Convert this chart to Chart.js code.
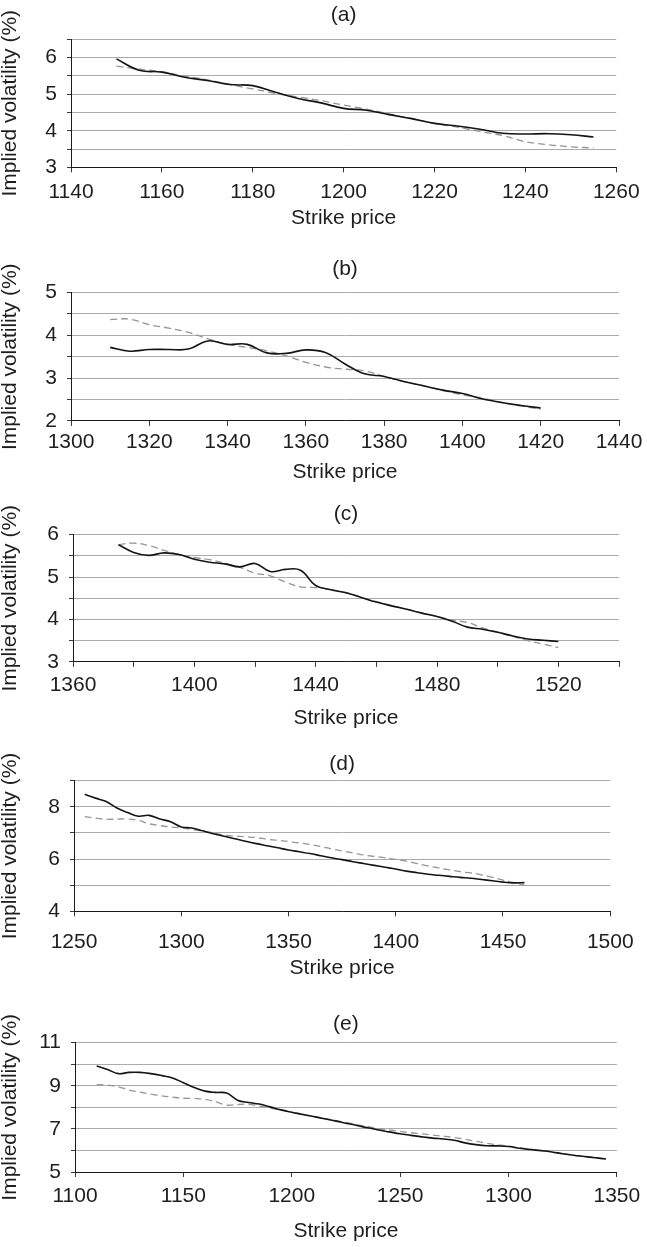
<!DOCTYPE html>
<html>
<head>
<meta charset="utf-8">
<script src="https://cdn.jsdelivr.net/npm/chart.js@4.4.1/dist/chart.umd.min.js"></script>
<style>
  html, body { margin: 0; padding: 0; background: #fff; }
  body { width: 647px; height: 1247px; position: relative; overflow: hidden; }
  canvas { position: absolute; left: 0; }
</style>
</head>
<body>
<canvas id="chartA"></canvas>
<canvas id="chartB"></canvas>
<canvas id="chartC"></canvas>
<canvas id="chartD"></canvas>
<canvas id="chartE"></canvas>
<script>
// (a)
const strikesA = [1150, 1155, 1160, 1165, 1170, 1175, 1180, 1185, 1190, 1195, 1200, 1205, 1210, 1215, 1220, 1225, 1230, 1235, 1240, 1245, 1250, 1255];
const solidA = [5.96, 5.65, 5.60, 5.46, 5.37, 5.26, 5.23, 5.05, 4.88, 4.76, 4.61, 4.56, 4.44, 4.33, 4.20, 4.13, 4.04, 3.93, 3.91, 3.92, 3.89, 3.83];
const dashedA = [5.76, 5.68, 5.61, 5.49, 5.39, 5.26, 5.14, 5.02, 4.92, 4.82, 4.70, 4.59, 4.46, 4.33, 4.20, 4.10, 3.98, 3.87, 3.70, 3.62, 3.56, 3.53];
const xLabelsA = [1140, 1160, 1180, 1200, 1220, 1240, 1260];
const yLabelsA = [3, 4, 5, 6];

// (b)
const strikesB = [1310, 1315, 1320, 1325, 1330, 1335, 1340, 1345, 1350, 1355, 1360, 1365, 1370, 1375, 1380, 1385, 1390, 1395, 1400, 1405, 1410, 1415, 1420];
const solidB = [3.72, 3.63, 3.67, 3.67, 3.68, 3.87, 3.79, 3.79, 3.59, 3.58, 3.66, 3.60, 3.33, 3.10, 3.04, 2.92, 2.82, 2.72, 2.64, 2.52, 2.43, 2.36, 2.30];
const dashedB = [4.37, 4.38, 4.25, 4.17, 4.07, 3.92, 3.79, 3.72, 3.64, 3.52, 3.37, 3.26, 3.21, 3.17, 3.04, 2.92, 2.82, 2.71, 2.61, 2.53, 2.43, 2.35, 2.27];
const xLabelsB = [1300, 1320, 1340, 1360, 1380, 1400, 1420, 1440];
const yLabelsB = [2, 3, 4, 5];

// (c)
const strikesC = [1375, 1380, 1385, 1390, 1395, 1400, 1405, 1410, 1415, 1420, 1425, 1430, 1435, 1440, 1445, 1450, 1455, 1460, 1465, 1470, 1475, 1480, 1485, 1490, 1495, 1500, 1505, 1510, 1515, 1520];
const solidC = [5.76, 5.58, 5.51, 5.57, 5.53, 5.42, 5.35, 5.31, 5.24, 5.32, 5.13, 5.18, 5.16, 4.80, 4.70, 4.63, 4.52, 4.41, 4.32, 4.24, 4.15, 4.07, 3.96, 3.82, 3.77, 3.70, 3.61, 3.54, 3.51, 3.48];
const dashedC = [5.76, 5.80, 5.74, 5.63, 5.53, 5.46, 5.41, 5.33, 5.23, 5.09, 5.03, 4.88, 4.77, 4.75, 4.71, 4.63, 4.52, 4.42, 4.33, 4.24, 4.15, 4.07, 3.98, 3.93, 3.80, 3.70, 3.60, 3.50, 3.42, 3.34];
const xLabelsC = [1360, 1400, 1440, 1480, 1520];
const yLabelsC = [3, 4, 5, 6];

// (d)
const strikesD = [1255, 1260, 1265, 1270, 1275, 1280, 1285, 1290, 1295, 1300, 1305, 1310, 1315, 1320, 1325, 1330, 1335, 1340, 1345, 1350, 1355, 1360, 1365, 1370, 1375, 1380, 1385, 1390, 1395, 1400, 1405, 1410, 1415, 1420, 1425, 1430, 1435, 1440, 1445, 1450, 1455, 1460];
const solidD = [8.48, 8.33, 8.20, 7.95, 7.78, 7.64, 7.67, 7.53, 7.43, 7.23, 7.19, 7.08, 6.97, 6.87, 6.78, 6.68, 6.59, 6.51, 6.43, 6.35, 6.28, 6.21, 6.13, 6.05, 5.98, 5.90, 5.83, 5.76, 5.69, 5.62, 5.54, 5.48, 5.42, 5.38, 5.34, 5.30, 5.27, 5.22, 5.17, 5.12, 5.09, 5.10];
const dashedD = [7.62, 7.57, 7.52, 7.53, 7.53, 7.48, 7.35, 7.28, 7.23, 7.19, 7.13, 7.07, 7.00, 6.92, 6.88, 6.85, 6.82, 6.76, 6.72, 6.67, 6.62, 6.56, 6.48, 6.39, 6.31, 6.24, 6.16, 6.10, 6.05, 5.99, 5.92, 5.83, 5.74, 5.66, 5.59, 5.52, 5.47, 5.40, 5.30, 5.20, 5.10, 5.00];
const xLabelsD = [1250, 1300, 1350, 1400, 1450, 1500];
const yLabelsD = [4, 6, 8];

// (e)
const strikesE = [1110, 1115, 1120, 1125, 1130, 1135, 1140, 1145, 1150, 1155, 1160, 1165, 1170, 1175, 1180, 1185, 1190, 1195, 1200, 1205, 1210, 1215, 1220, 1225, 1230, 1235, 1240, 1245, 1250, 1255, 1260, 1265, 1270, 1275, 1280, 1285, 1290, 1295, 1300, 1305, 1310, 1315, 1320, 1325, 1330, 1335, 1340, 1345];
const solidE = [9.92, 9.75, 9.56, 9.62, 9.62, 9.56, 9.47, 9.36, 9.14, 8.92, 8.75, 8.69, 8.66, 8.33, 8.22, 8.15, 8.02, 7.88, 7.77, 7.67, 7.57, 7.47, 7.37, 7.26, 7.16, 7.05, 6.95, 6.86, 6.77, 6.70, 6.63, 6.57, 6.53, 6.47, 6.35, 6.27, 6.22, 6.21, 6.18, 6.10, 6.04, 5.99, 5.93, 5.85, 5.78, 5.72, 5.66, 5.60];
const dashedE = [9.05, 9.03, 8.95, 8.80, 8.70, 8.61, 8.53, 8.47, 8.42, 8.41, 8.37, 8.25, 8.10, 8.13, 8.14, 8.06, 7.96, 7.87, 7.77, 7.68, 7.58, 7.49, 7.39, 7.30, 7.20, 7.11, 7.01, 6.95, 6.88, 6.82, 6.77, 6.71, 6.66, 6.60, 6.52, 6.42, 6.33, 6.26, 6.20, 6.13, 6.06, 5.99, 5.92, 5.85, 5.78, 5.72, 5.66, 5.60];
const xLabelsE = [1100, 1150, 1200, 1250, 1300, 1350];
const yLabelsE = [5, 7, 9, 11];

const FONT = "'Liberation Sans', Arial, Helvetica, sans-serif";
const TEXT = "#1e1e1e";
const LINE_H = 25.2; // 21px * 1.2

// layout of each panel, in page pixels
const panels = [
  { id: "chartA", title: "(a)", strikes: strikesA, solid: solidA, dashed: dashedA, xLabels: xLabelsA, yLabels: yLabelsA,
    xMin: 1140, xMax: 1260, xStep: 20, yMin: 3, yMax: 6.5, yStep: 0.5,
    titleY: 15.5, top: 39, bottom: 167, left: 71, labelGap: 25, xTitleGap: 51 },
  { id: "chartB", title: "(b)", strikes: strikesB, solid: solidB, dashed: dashedB, xLabels: xLabelsB, yLabels: yLabelsB,
    xMin: 1300, xMax: 1440, xStep: 20, yMin: 2, yMax: 5, yStep: 0.5,
    titleY: 270, top: 293, bottom: 420.5, left: 71, labelGap: 21.7, xTitleGap: 51.5 },
  { id: "chartC", title: "(c)", strikes: strikesC, solid: solidC, dashed: dashedC, xLabels: xLabelsC, yLabels: yLabelsC,
    xMin: 1360, xMax: 1540, xStep: 20, yMin: 3, yMax: 6, yStep: 0.5,
    titleY: 515, top: 535, bottom: 662, left: 73, labelGap: 23.3, xTitleGap: 56.5 },
  { id: "chartD", title: "(d)", strikes: strikesD, solid: solidD, dashed: dashedD, xLabels: xLabelsD, yLabels: yLabelsD,
    xMin: 1250, xMax: 1500, xStep: 50, yMin: 4, yMax: 9, yStep: 1,
    titleY: 765, top: 781, bottom: 911, left: 74, labelGap: 31, xTitleGap: 57 },
  { id: "chartE", title: "(e)", strikes: strikesE, solid: solidE, dashed: dashedE, xLabels: xLabelsE, yLabels: yLabelsE,
    xMin: 1100, xMax: 1350, xStep: 50, yMin: 5, yMax: 11, yStep: 1,
    titleY: 1025, top: 1043, bottom: 1172.3, left: 75, labelGap: 24.4, xTitleGap: 59.4 }
];

function toPoints(xs, ys) {
  return xs.map((x, i) => ({ x, y: ys[i] }));
}

function drawPanel(p) {
  const canvas = document.getElementById(p.id);
  const canvasTop = p.titleY - LINE_H / 2;
  const xHeight = p.xTitleGap + LINE_H / 2;
  const height = Math.ceil(p.bottom - canvasTop + xHeight);
  canvas.width = 647;
  canvas.height = height;
  canvas.style.top = canvasTop + "px";
  canvas.style.width = "647px";
  canvas.style.height = height + "px";

  new Chart(canvas, {
    type: "line",
    data: {
      datasets: [
        {
          label: "solid",
          data: toPoints(p.strikes, p.solid),
          borderColor: "#141414",
          borderWidth: 1.6,
          pointRadius: 0,
          tension: 0.4,
          fill: false
        },
        {
          label: "dashed",
          data: toPoints(p.strikes, p.dashed),
          borderColor: "#959595",
          borderWidth: 1.3,
          borderDash: [7, 4],
          pointRadius: 0,
          tension: 0.4,
          fill: false
        }
      ]
    },
    options: {
      responsive: false,
      animation: false,
      devicePixelRatio: 1,
      layout: { padding: { left: 0, top: 0, right: 647 - 619, bottom: 0 } },
      plugins: {
        legend: { display: false },
        tooltip: { enabled: false },
        title: {
          display: true,
          text: p.title,
          fullSize: false,
          color: TEXT,
          font: { family: FONT, size: 21, weight: "normal", lineHeight: 1.2 },
          padding: { top: 0, bottom: p.top - p.titleY - LINE_H / 2 }
        }
      },
      scales: {
        x: {
          type: "linear",
          min: p.xMin,
          max: p.xMax,
          grid: { drawOnChartArea: false, drawTicks: true, tickLength: 5, tickColor: "#3a3a3a" },
          border: { color: "#1a1a1a", width: 1 },
          ticks: {
            stepSize: p.xStep,
            autoSkip: false,
            maxRotation: 0,
            padding: p.labelGap - 5 - LINE_H / 2,
            color: TEXT,
            font: { family: FONT, size: 21, lineHeight: 1.2 },
            callback: (v) => (p.xLabels.includes(v) ? String(v) : "")
          },
          title: {
            display: true,
            text: "Strike price",
            color: TEXT,
            font: { family: FONT, size: 21, lineHeight: 1.2 },
            padding: 0
          },
          afterFit: (scale) => { scale.height = xHeight; }
        },
        y: {
          type: "linear",
          min: p.yMin,
          max: p.yMax,
          grid: { color: "#ababab", lineWidth: 1, drawTicks: true, tickLength: 4, tickColor: "#3a3a3a" },
          border: { color: "#1a1a1a", width: 1 },
          ticks: {
            stepSize: p.yStep,
            autoSkip: false,
            padding: 10,
            color: TEXT,
            font: { family: FONT, size: 21, lineHeight: 1.2 },
            callback: (v) => (p.yLabels.includes(v) ? String(v) : "")
          },
          title: {
            display: true,
            text: "Implied volatility (%)",
            color: TEXT,
            font: { family: FONT, size: 21, lineHeight: 1 },
            padding: 0
          },
          afterFit: (scale) => { scale.width = p.left; }
        }
      }
    }
  });
}

panels.forEach(drawPanel);
</script>
</body>
</html>
